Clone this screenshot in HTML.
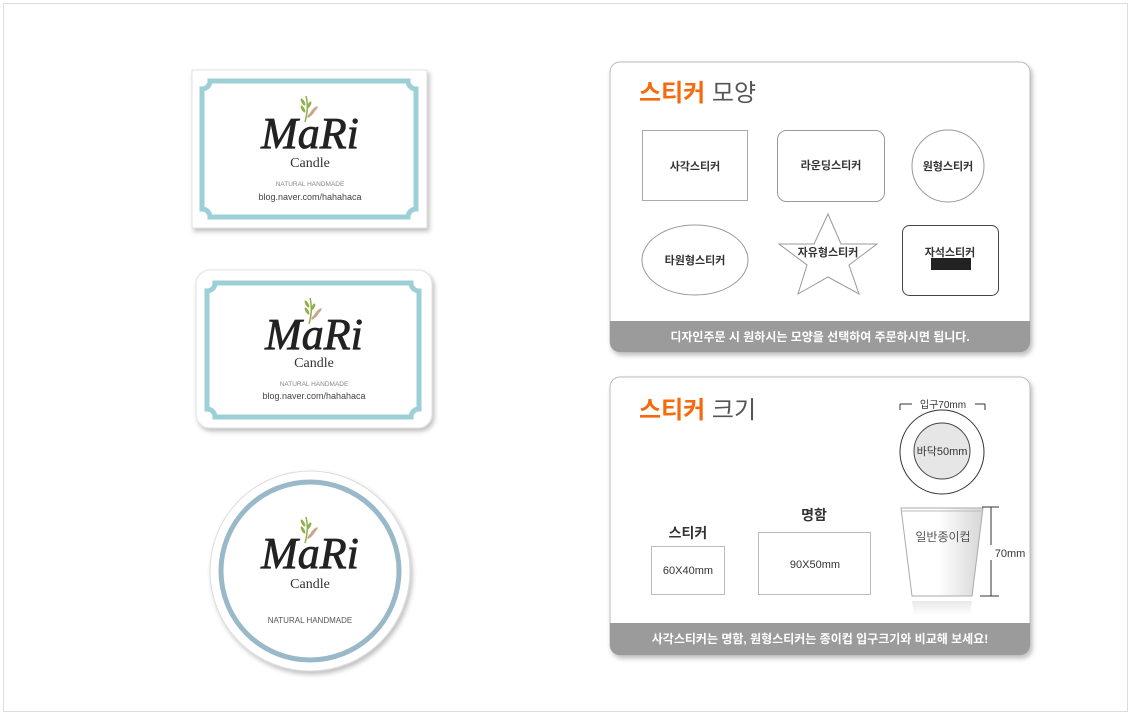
<!DOCTYPE html>
<html><head><meta charset="utf-8"><style>
body{margin:0;width:1131px;height:715px;background:#fff;overflow:hidden}
svg text{font-family:"Liberation Sans","Noto Sans CJK KR",sans-serif}
.serif{font-family:"Liberation Serif","DejaVu Serif",serif !important}
</style></head><body>
<svg width="1131" height="715" xmlns="http://www.w3.org/2000/svg">
<defs>
<filter id="sh" x="-10%" y="-10%" width="130%" height="130%"><feDropShadow dx="2" dy="3" stdDeviation="2.5" flood-color="#000" flood-opacity="0.25"/></filter>
<linearGradient id="cup" x1="0" x2="1"><stop offset="0" stop-color="#fff"/><stop offset="0.45" stop-color="#fff"/><stop offset="1" stop-color="#d6d6d6"/></linearGradient>
<linearGradient id="refl" x1="0" y1="0" x2="0" y2="1"><stop offset="0" stop-color="#e8e8e8"/><stop offset="1" stop-color="#fff"/></linearGradient>
<g id="leaf">
<path d="M0,0 q3,12 -1,26" stroke="#8fb04a" stroke-width="1.5" fill="none"/>
<ellipse cx="-3" cy="6" rx="1.5" ry="4" fill="#8fb04a" transform="rotate(-30 -3 6)"/>
<ellipse cx="3" cy="9" rx="1.5" ry="4" fill="#8fb04a" transform="rotate(30 3 9)"/>
<ellipse cx="-3" cy="13" rx="1.5" ry="4" fill="#8fb04a" transform="rotate(-30 -3 13)"/>
<ellipse cx="5" cy="18" rx="1.5" ry="5" fill="#c9a58a" transform="rotate(45 5 18)"/>
<ellipse cx="8" cy="14" rx="1.5" ry="5" fill="#c9a58a" transform="rotate(45 8 14)"/>
</g>
</defs>
<rect x="3.5" y="3.5" width="1124" height="708" fill="#fff" stroke="#ddd"/>

<!-- card 1 -->
<rect x="192" y="70" width="235" height="158" fill="#fff" stroke="#e2e2e2" filter="url(#sh)"/>
<path d="M210,81 H408 A8,8 0 0 0 416,89 V209 A8,8 0 0 0 408,217 H210 A8,8 0 0 0 202,209 V89 A8,8 0 0 0 210,81 Z" fill="none" stroke="#9dcfd6" stroke-width="5"/>
<g transform="translate(310,0)">
<text x="0" y="148" text-anchor="middle" class="serif" font-size="44" fill="#222" stroke="#222" stroke-width="0.8" font-style="italic">MaRi</text>
<use href="#leaf" x="-4" y="96"/>
<text x="0" y="167" text-anchor="middle" class="serif" font-size="14" fill="#333">Candle</text>
<text x="0" y="186" text-anchor="middle" font-size="6.5" fill="#888">NATURAL HANDMADE</text>
<text x="0" y="200" text-anchor="middle" font-size="9" fill="#444">blog.naver.com/hahahaca</text>
</g>

<!-- card 2 -->
<rect x="196" y="270" width="236" height="158" rx="14" fill="#fff" stroke="#e2e2e2" filter="url(#sh)"/>
<path d="M215,283 H411 A8,8 0 0 0 419,291 V409 A8,8 0 0 0 411,417 H215 A8,8 0 0 0 207,409 V291 A8,8 0 0 0 215,283 Z" fill="none" stroke="#9dcfd6" stroke-width="5"/>
<g transform="translate(314,0)">
<text x="0" y="349" text-anchor="middle" class="serif" font-size="44" fill="#222" stroke="#222" stroke-width="0.8" font-style="italic">MaRi</text>
<use href="#leaf" x="-4" y="298"/>
<text x="0" y="367" text-anchor="middle" class="serif" font-size="14" fill="#333">Candle</text>
<text x="0" y="386" text-anchor="middle" font-size="6.5" fill="#888">NATURAL HANDMADE</text>
<text x="0" y="399" text-anchor="middle" font-size="9" fill="#444">blog.naver.com/hahahaca</text>
</g>

<!-- circle -->
<circle cx="310" cy="571" r="100" fill="#fff" stroke="#ddd" filter="url(#sh)"/>
<circle cx="310" cy="571" r="89" fill="none" stroke="#9ab9c8" stroke-width="5"/>
<text x="310" y="568" text-anchor="middle" class="serif" font-size="44" fill="#222" stroke="#222" stroke-width="0.8" font-style="italic">MaRi</text>
<use href="#leaf" x="306" y="517"/>
<text x="310" y="588" text-anchor="middle" class="serif" font-size="14" fill="#333">Candle</text>
<text x="310" y="623" text-anchor="middle" font-size="8" fill="#555">NATURAL HANDMADE</text>

<!-- panel 1 -->
<g filter="url(#sh)">
<path d="M620,62 H1020 A10,10 0 0 1 1030,72 V342 A10,10 0 0 1 1020,352 H620 A10,10 0 0 1 610,342 V72 A10,10 0 0 1 620,62 Z" fill="#fff" stroke="#bbb"/>
</g>
<path d="M610,321 H1030 V342 A10,10 0 0 1 1020,352 H620 A10,10 0 0 1 610,342 Z" fill="#9b9b9b"/>
<text x="820" y="341" text-anchor="middle" font-size="12" font-weight="bold" fill="#fff">디자인주문 시 원하시는 모양을 선택하여 주문하시면 됩니다.</text>
<text x="639" y="101" font-size="24"><tspan fill="#f56a0c" font-weight="bold">스티커</tspan><tspan fill="#555"> 모양</tspan></text>
<rect x="642.5" y="130.5" width="105" height="70" fill="#fff" stroke="#aaa"/>
<text x="695" y="170" text-anchor="middle" font-size="11" font-weight="bold" fill="#333">사각스티커</text>
<rect x="777.5" y="130.5" width="107" height="71" rx="9" fill="#fff" stroke="#999"/>
<text x="831" y="169" text-anchor="middle" font-size="11" font-weight="bold" fill="#333">라운딩스티커</text>
<circle cx="948" cy="166" r="36" fill="#fff" stroke="#999"/>
<text x="948" y="170" text-anchor="middle" font-size="11" font-weight="bold" fill="#333">원형스티커</text>
<ellipse cx="695" cy="260" rx="53" ry="35" fill="#fff" stroke="#999"/>
<text x="695" y="264" text-anchor="middle" font-size="11" font-weight="bold" fill="#333">타원형스티커</text>
<polygon points="828,214 841,244 877,244 849,265 859,294 828,277 798,294 807,265 779,244 814,244" fill="#fff" stroke="#999"/>
<text x="828" y="256" text-anchor="middle" font-size="11" font-weight="bold" fill="#333">자유형스티커</text>
<rect x="902.5" y="225.5" width="96" height="70" rx="7" fill="#fff" stroke="#444"/>
<text x="950" y="256" text-anchor="middle" font-size="11" font-weight="bold" fill="#333">자석스티커</text>
<rect x="931" y="258" width="40" height="12" fill="#222"/>

<!-- panel 2 -->
<g filter="url(#sh)">
<path d="M620,377 H1020 A10,10 0 0 1 1030,387 V645 A10,10 0 0 1 1020,655 H620 A10,10 0 0 1 610,645 V387 A10,10 0 0 1 620,377 Z" fill="#fff" stroke="#bbb"/>
</g>
<path d="M610,623 H1030 V645 A10,10 0 0 1 1020,655 H620 A10,10 0 0 1 610,645 Z" fill="#9b9b9b"/>
<text x="820" y="643" text-anchor="middle" font-size="12" font-weight="bold" fill="#fff">사각스티커는 명함, 원형스티커는 종이컵 입구크기와 비교해 보세요!</text>
<text x="639" y="418" font-size="24"><tspan fill="#f56a0c" font-weight="bold">스티커</tspan><tspan fill="#555"> 크기</tspan></text>
<text x="688" y="538" text-anchor="middle" font-size="14" font-weight="bold" fill="#333">스티커</text>
<rect x="651.5" y="546.5" width="73" height="48" fill="#fff" stroke="#bbb"/>
<text x="688" y="574" text-anchor="middle" font-size="11" fill="#333">60X40mm</text>
<text x="814" y="520" text-anchor="middle" font-size="14" font-weight="bold" fill="#333">명함</text>
<rect x="758.5" y="532.5" width="112" height="62" fill="#fff" stroke="#bbb"/>
<text x="815" y="568" text-anchor="middle" font-size="11" fill="#333">90X50mm</text>
<!-- cup top view -->
<path d="M900,404 V410 M900,404 H912 M975,404 H985 M985,404 V410" stroke="#333" fill="none"/>
<text x="943" y="408" text-anchor="middle" font-size="10" fill="#333">입구70mm</text>
<circle cx="942" cy="452" r="42" fill="#fff" stroke="#333"/>
<circle cx="942" cy="451" r="28" fill="#e6e6e6" stroke="#444"/>
<text x="942" y="455" text-anchor="middle" font-size="11" fill="#333">바닥50mm</text>
<!-- cup side -->
<polygon points="901,508 983,508 972,596 912,596" fill="url(#cup)" stroke="#aaa"/>
<line x1="901" y1="511" x2="983" y2="511" stroke="#bbb"/>
<polygon points="912,601 972,601 970,615 914,615" fill="url(#refl)"/>
<text x="943" y="541" text-anchor="middle" font-size="12" fill="#555">일반종이컵</text>
<path d="M982,507 H999 M991,507 V545 M991,560 V596 M980,596 H999" stroke="#333" fill="none"/>
<text x="1010" y="557" text-anchor="middle" font-size="11" fill="#333">70mm</text>
</svg>
</body></html>
